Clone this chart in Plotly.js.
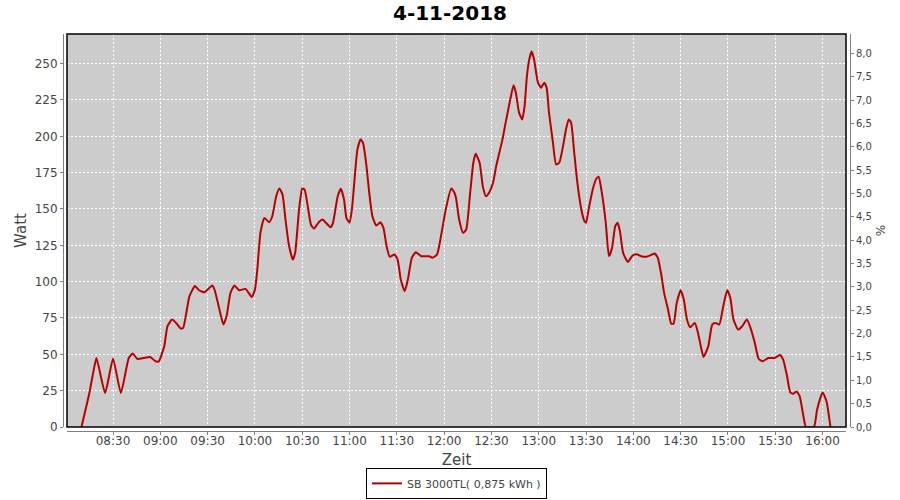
<!DOCTYPE html>
<html>
<head>
<meta charset="utf-8">
<script src="https://cdn.plot.ly/plotly-3.0.1.min.js"></script>
<style>html,body{margin:0;padding:0;background:#fff;}#chart{width:900px;height:500px;}</style>
</head>
<body>
<div id="chart"></div>
<script>
const chartDate = "2018-11-04";
const chartTitle = "4-11-2018";
const seriesName = "SB 3000TL( 0,875 kWh )";

const times = [
"08:10:00","08:15:00","08:18:00","08:19:30","08:25:00","08:30:00","08:35:00","08:40:00","08:42:30","08:45:30",
"08:49:30","08:53:30","08:57:00","08:59:00","09:02:30","09:04:30","09:07:30","09:10:00","09:13:00","09:14:30",
"09:16:30","09:18:30","09:22:00","09:24:30","09:28:00","09:33:00","09:34:30","09:37:30","09:40:00","09:42:00",
"09:44:30","09:47:00","09:50:00","09:54:00","09:58:00","10:00:00","10:01:30","10:03:30","10:06:00","10:09:00",
"10:11:00","10:13:30","10:15:30","10:17:30","10:19:30","10:21:30","10:24:00","10:25:30","10:28:00","10:30:00",
"10:31:30","10:33:30","10:35:30","10:37:30","10:40:30","10:43:00","10:45:00","10:48:00","10:49:30","10:52:30",
"10:54:30","10:56:30","10:58:00","11:00:00","11:01:30","11:03:00","11:05:00","11:07:00","11:08:30","11:10:30",
"11:12:30","11:14:30","11:17:00","11:19:30","11:21:30","11:23:30","11:25:30","11:28:30","11:30:30","11:32:30",
"11:35:00","11:37:00","11:39:30","11:42:00","11:45:30","11:50:30","11:52:30","11:55:30","11:58:00","12:01:00",
"12:04:30","12:06:30","12:07:30","12:09:30","12:12:00","12:14:00","12:16:30","12:18:30","12:20:00","12:22:30",
"12:24:30","12:26:30","12:28:30","12:31:00","12:33:00","12:35:00","12:37:00","12:39:00","12:41:30","12:44:00",
"12:45:30","12:47:30","12:49:30","12:51:00","12:52:30","12:54:00","12:55:30","12:57:00","12:59:30","13:01:30",
"13:03:30","13:05:00","13:06:30","13:09:00","13:11:00","13:13:00","13:15:00","13:17:30","13:19:00","13:20:30",
"13:22:30","13:24:30","13:27:00","13:29:00","13:30:00","13:32:00","13:34:30","13:36:30","13:38:00","13:40:00",
"13:42:30","13:44:30","13:46:30","13:48:30","13:50:00","13:51:30","13:53:30","13:56:30","13:59:30","14:02:00",
"14:05:00","14:08:00","14:11:30","14:13:30","14:15:30","14:17:30","14:19:30","14:22:00","14:24:00","14:25:30",
"14:27:30","14:30:00","14:32:00","14:34:00","14:36:00","14:39:00","14:41:00","14:43:00","14:44:30","14:47:30",
"14:50:00","14:52:00","14:54:30","14:57:00","14:59:30","15:01:30","15:03:30","15:06:30","15:09:00","15:12:00",
"15:14:30","15:17:00","15:19:30","15:22:00","15:25:30","15:29:30","15:33:00","15:35:00","15:37:30","15:39:30",
"15:41:30","15:43:30","15:45:30","15:47:30","15:49:30","15:54:30","15:56:30","16:00:00","16:02:30","16:05:00"
];

const watt = [
0,23.4,40.6,47.5,23.4,47,23.4,47.5,50.5,46.8,
47.5,48.2,45.2,45.2,55.5,69.3,73.9,71.6,67.7,68.2,
78.5,90,97,94.1,92.7,97.3,94.1,80.8,70.5,76.2,
92.3,97.3,94.1,95,89.5,94.6,108.3,133.6,143.9,140.9,
145,158.8,164.1,160,141.6,125.6,115.2,119.8,149.7,164.1,
163.4,151.9,139.3,136.4,140.9,142.8,140.5,137.5,140.5,158.8,
163.9,156.5,143.9,140.5,149.7,168,191,197.9,195.6,181.8,
161.2,145,138.6,140.9,137,124.4,117.1,118.7,115.2,101.4,
93.4,101.4,116.4,120.2,117.5,117.5,116.4,118.7,131.3,149.7,
164.1,161.2,157.7,142.8,133.6,135.9,161.2,181.8,188,181.8,
165.7,158.8,161.2,168,179.5,188.7,197.9,209.4,223.1,235.1,
230,216.3,211.6,220.8,241.5,253,258.3,253,236.9,233.5,
236.9,233.5,216.3,195.6,180.6,181.8,191,205.9,211.6,209.4,
188.7,168,149.7,141.6,140.5,151.9,164.6,170.8,172.2,161.2,
140.5,117.5,123.3,138.2,140.5,134.7,119.8,113.6,118,118.9,
117.5,117.1,118.5,119.4,116.4,106.1,92.3,80.8,71.1,71.1,
85.4,94.1,87.7,73.9,68.6,71.6,64.7,54.4,48.2,55.5,
70.5,71.6,70.5,83.1,94.1,88.8,73.9,67,69.3,73.9,
67.5,57.9,46.8,45.2,47.5,47.5,49.6,46.3,34.8,23.8,
22.9,24.5,21.1,9.6,0,0,11.9,23.8,17.6,0
];

const xTimeRange = ["08:00:49", "16:14:51"];
const wattRange = [0, 270.4];
const percentRange = [0, 8.42];
const xTitle = "Zeit";
const yTitle = "Watt";
const y2Title = "%";

const x = times.map(t => chartDate + " " + t);

const font = "DejaVu Sans, Verdana, sans-serif";
const axisGray = "#808080";
const textGray = "#444444";

const data = [
  {
    x: x, y: watt, type: "scatter", mode: "lines", name: seriesName,
    line: {color: "#b80000", width: 2, shape: "spline", smoothing: 0.5},
    xaxis: "x", yaxis: "y"
  },
  {
    x: [x[0]], y: [null], type: "scatter", mode: "lines", showlegend: false,
    hoverinfo: "skip", xaxis: "x", yaxis: "y2"
  }
];

const layout = {
  width: 900, height: 500,
  paper_bgcolor: "#ffffff",
  plot_bgcolor: "#cccccc",
  separators: ",.",
  margin: {l: 63, r: 50, t: 34, b: 69, pad: 0, autoexpand: false},
  font: {family: font, color: textGray, size: 12},
  title: {
    text: chartTitle, x: 0.5, xanchor: "center", y: 0.974, yanchor: "middle",
    font: {family: font, size: 20, color: "#000000", weight: "bold"}
  },
  showlegend: true,
  legend: {
    orientation: "h", x: 0.5, xanchor: "center", y: -0.171, yanchor: "bottom",
    bgcolor: "#ffffff", bordercolor: "#000000", borderwidth: 1,
    font: {family: font, size: 11, color: textGray},
    itemwidth: 30, tracegroupgap: 0
  },
  xaxis: {
    type: "date", automargin: false,
    domain: [4/787, 1 - 4/787],
    range: xTimeRange.map(t => chartDate + " " + t),
    anchor: "free", position: 0,
    tick0: chartDate + " 08:30:00", dtick: 1800000,
    tickformat: "%H:%M",
    showline: true, linecolor: axisGray, linewidth: 1,
    ticks: "outside", ticklen: 3, tickcolor: axisGray,
    ticklabelstandoff: -4,
    showgrid: true, gridcolor: "#ffffff", gridwidth: 1, griddash: "2px,2px",
    zeroline: false,
    tickfont: {family: font, size: 12, color: textGray},
    title: {text: xTitle, font: {family: font, size: 15, color: textGray}, standoff: 7}
  },
  yaxis: {
    automargin: false,
    domain: [4/397, 1],
    range: wattRange,
    anchor: "free", position: 0,
    dtick: 25, tick0: 0,
    showline: true, linecolor: axisGray, linewidth: 1,
    ticks: "outside", ticklen: 3, tickcolor: axisGray,
    showgrid: true, gridcolor: "#ffffff", gridwidth: 1, griddash: "2px,2px",
    zeroline: false,
    tickfont: {family: font, size: 12, color: textGray},
    title: {text: yTitle, font: {family: font, size: 15, color: textGray}, standoff: 3}
  },
  yaxis2: {
    automargin: false,
    overlaying: "y", side: "right",
    range: percentRange,
    anchor: "free", position: 1,
    dtick: 0.5, tick0: 0, tickformat: ".1f",
    showline: true, linecolor: axisGray, linewidth: 1,
    ticks: "outside", ticklen: 3, tickcolor: axisGray,
    showgrid: false, zeroline: false,
    tickfont: {family: font, size: 10, color: textGray},
    title: {text: y2Title, font: {family: font, size: 12, color: textGray}, standoff: 5}
  },
  shapes: [
    {type: "rect", xref: "x domain", yref: "y domain", x0: 0, x1: 1, y0: 0, y1: 1,
     line: {color: "#000000", width: 1.5}, fillcolor: "rgba(0,0,0,0)", layer: "above"}
  ]
};

Plotly.newPlot("chart", data, layout, {displayModeBar: false, staticPlot: true});
</script>
</body>
</html>
